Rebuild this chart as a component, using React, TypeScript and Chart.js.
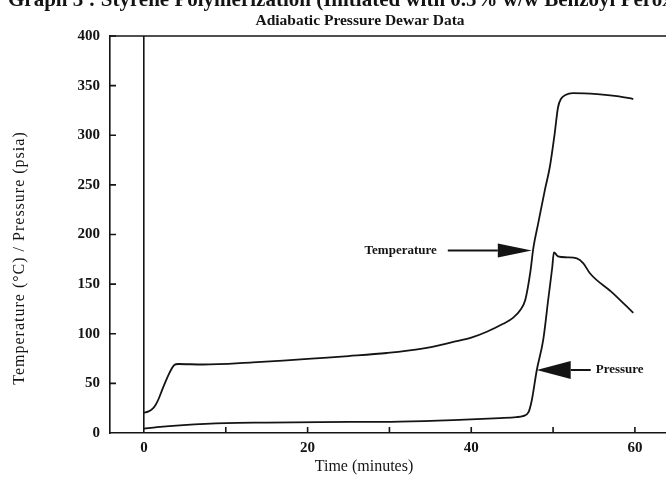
import React, { useEffect, useRef } from 'react';
import { Chart, registerables } from 'chart.js';

Chart.register(...registerables);

const TITLE = 'Graph 3 : Styrene Polymerization (Initiated with 0.5% w/w Benzoyl Peroxide)';
const SUBTITLE = 'Adiabatic Pressure Dewar Data';
const X_TITLE = 'Time (minutes)';
const Y_TITLE = 'Temperature (°C) / Pressure (psia)';

// Temperature (°C) vs time (minutes)
const tempTime = [0, 0.5, 1.0, 1.4, 1.8, 2.2, 2.6, 3.0, 3.4, 3.7, 4.2, 7.2, 13.3, 17, 21.5, 25, 29.7, 34, 37.8, 40, 41.9, 43.9, 45.1, 46.0, 46.6, 47.2, 47.6, 48.2, 49.0, 49.6, 50.2, 50.6, 51.0, 51.5, 52.4, 55.4, 57.8, 59.8];
const tempValues = [20.5, 21.5, 24, 28, 34.5, 43, 51, 58.5, 65, 68.5, 69.5, 69, 71.2, 73, 75.5, 77.5, 80.6, 85, 91.7, 96, 102, 110, 116, 124, 134, 161, 187, 212, 245, 268, 302, 328, 337, 340.5, 342.5, 341.5, 339.5, 336.5];

// Pressure (psia) vs time (minutes)
const pressTime = [0, 1.6, 4.8, 10, 15, 21.5, 31.3, 37.8, 43.5, 45.5, 46.3, 47.0, 47.4, 48.0, 48.8, 49.4, 49.9, 50.1, 50.6, 51.7, 52.9, 53.7, 54.5, 57.3, 59.8];
const pressValues = [4.5, 6, 8, 10, 10.5, 11, 11.5, 13, 15, 16, 17, 21, 33, 63, 94, 134, 167, 182, 178, 177, 176, 171, 161, 141, 121];

const X_MIN = -4.15;
const X_MAX = 63.8;
const Y_MIN = 0;
const Y_MAX = 400;
const X_STEP = 10;
const Y_STEP = 50;
const xLabelValues = [0, 20, 40, 60];

const annotationLabels = ['Temperature', 'Pressure'];
const annotationX = [47.4, 48.0];
const annotationY = [184, 63.5];
const annotationSide = ['left', 'right'];

const INK = '#141414';
const SERIF = '"Liberation Serif", "Times New Roman", serif';

const decorPlugin = {
  id: 'decor',
  afterDraw(chart: any) {
    const { ctx, chartArea: a, scales } = chart;
    const x = scales.x;
    const y = scales.y;
    ctx.save();
    ctx.strokeStyle = INK;
    ctx.fillStyle = INK;
    ctx.lineWidth = 1.6;

    // top frame line
    ctx.beginPath();
    ctx.moveTo(a.left, a.top);
    ctx.lineTo(a.right, a.top);
    ctx.stroke();

    // inward tick marks
    ctx.beginPath();
    x.ticks.forEach((t: any) => {
      if (t.value <= 0) return;
      const px = x.getPixelForValue(t.value);
      ctx.moveTo(px, a.bottom);
      ctx.lineTo(px, a.bottom - 6);
    });
    y.ticks.forEach((t: any) => {
      if (t.value <= 0) return;
      const py = y.getPixelForValue(t.value);
      ctx.moveTo(a.left, py);
      ctx.lineTo(a.left + 6, py);
    });
    ctx.stroke();

    // titles
    ctx.textBaseline = 'alphabetic';
    ctx.textAlign = 'left';
    ctx.font = `bold 21px ${SERIF}`;
    ctx.fillText(TITLE, 8, 6);
    ctx.textAlign = 'center';
    ctx.font = `bold 15.5px ${SERIF}`;
    ctx.fillText(SUBTITLE, 360, 25);

    // axis titles
    ctx.font = `16px ${SERIF}`;
    ctx.textBaseline = 'middle';
    ctx.fillText(X_TITLE, 364, 467);
    ctx.save();
    ctx.translate(20, 258);
    ctx.rotate(-Math.PI / 2);
    try { (ctx as any).letterSpacing = '1px'; } catch (e) {}
    ctx.fillText(Y_TITLE, 0, 0);
    ctx.restore();

    // arrow annotations
    ctx.font = `bold 13px ${SERIF}`;
    annotationLabels.forEach((label, i) => {
      const tx = x.getPixelForValue(annotationX[i]);
      const ty = y.getPixelForValue(annotationY[i]);
      const dir = annotationSide[i] === 'left' ? -1 : 1;
      const headLen = 34;
      const headHalf = annotationSide[i] === 'left' ? 7 : 9;
      const shaft = annotationSide[i] === 'left' ? 50 : 20;
      ctx.beginPath();
      ctx.moveTo(tx, ty);
      ctx.lineTo(tx + dir * headLen, ty - headHalf);
      ctx.lineTo(tx + dir * headLen, ty + headHalf);
      ctx.closePath();
      ctx.fill();
      ctx.lineWidth = 2;
      ctx.beginPath();
      ctx.moveTo(tx + dir * headLen, ty);
      ctx.lineTo(tx + dir * (headLen + shaft), ty);
      ctx.stroke();
      ctx.textAlign = dir < 0 ? 'right' : 'left';
      ctx.textBaseline = 'middle';
      ctx.fillText(label, tx + dir * (headLen + shaft + (dir < 0 ? 11 : 5)), ty);
    });
    ctx.restore();
  },
};

export default function App() {
  const canvasRef = useRef<HTMLCanvasElement | null>(null);

  useEffect(() => {
    const canvas = canvasRef.current;
    if (!canvas) return;
    const chart = new Chart(canvas, {
      type: 'scatter',
      data: {
        datasets: [
          {
            label: 'Temperature',
            data: tempTime.map((t, i) => ({ x: t, y: tempValues[i] })),
            showLine: true,
            borderColor: INK,
            borderWidth: 1.8,
            pointRadius: 0,
            cubicInterpolationMode: 'monotone',
            fill: false,
          },
          {
            label: 'Pressure',
            data: pressTime.map((t, i) => ({ x: t, y: pressValues[i] })),
            showLine: true,
            borderColor: INK,
            borderWidth: 1.8,
            pointRadius: 0,
            cubicInterpolationMode: 'monotone',
            fill: false,
          },
        ],
      },
      options: {
        animation: false,
        responsive: false,
        maintainAspectRatio: false,
        layout: { padding: { top: 36, left: 0, right: 0, bottom: 0 } },
        plugins: {
          legend: { display: false },
          tooltip: { enabled: false },
          title: { display: false },
        },
        scales: {
          x: {
            type: 'linear',
            min: X_MIN,
            max: X_MAX,
            ticks: {
              stepSize: X_STEP,
              includeBounds: false,
              autoSkip: false,
              maxRotation: 0,
              padding: 6,
              color: INK,
              font: { family: SERIF, size: 15, weight: 'bold' },
              callback: (v: any) => (xLabelValues.includes(Number(v)) ? String(v) : ''),
            },
            grid: {
              drawTicks: false,
              lineWidth: 1.6,
              color: (c: any) => (c.tick && c.tick.value === 0 ? INK : 'rgba(0,0,0,0)'),
            },
            border: { color: INK, width: 1.6 },
            afterFit: (s: any) => { s.height = 47; },
          },
          y: {
            min: Y_MIN,
            max: Y_MAX,
            ticks: {
              stepSize: Y_STEP,
              padding: 10,
              color: INK,
              font: { family: SERIF, size: 15, weight: 'bold' },
            },
            grid: { drawTicks: false, color: 'rgba(0,0,0,0)' },
            border: { color: INK, width: 1.6 },
            afterFit: (s: any) => { s.width = 110; },
          },
        },
      },
      plugins: [decorPlugin],
    } as any);
    return () => chart.destroy();
  }, []);

  return (
    <div style={{ position: 'fixed', left: 0, top: 0, width: 666, height: 480, background: '#fff' }}>
      <canvas ref={canvasRef} width={666} height={480} style={{ display: 'block' }} />
    </div>
  );
}
